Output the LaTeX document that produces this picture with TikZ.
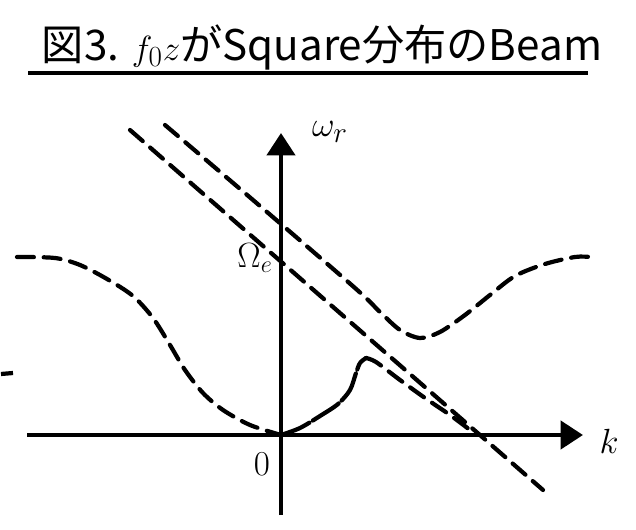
\documentclass[tikz,border=0pt]{standalone}
\usepackage{fontspec}
\newfontfamily\cjk{Noto Sans CJK JP}
\usetikzlibrary{arrows.meta}
\tikzset{
  axis/.style={line width=3.2pt, -{Triangle[length=16pt,width=20pt]}},
  branch/.style={line width=3pt, dash pattern=on 12pt off 7pt, line cap=round},
  hump/.style={line width=3pt, dash pattern=on 22pt off 3pt, line cap=round},
  lbl/.style={inner sep=0pt, font=\fontsize{30}{34}\selectfont}
}
\begin{document}
\begin{tikzpicture}[x=0.025cm, y=-0.025cm]
    \useasboundingbox (0,0) rectangle (636,530);

    % Title and its underline
    \node[inner sep=0pt] (title) at (322,47) {\cjk\fontsize{30}{34}\selectfont 図3. $f_0z$がSquare分布のBeam};
    \coordinate (ulA) at (28,73);
    \coordinate (ulB) at (588,73);
    \draw[line width=2.5pt] (ulA) -- (ulB);

    % Axes
    \coordinate (O) at (281,435);
    \coordinate (kA) at (27,435);
    \coordinate (kB) at (583,435);
    \coordinate (wA) at (281,515);
    \coordinate (wB) at (281,133);
    \draw[axis] (kA) -- (kB);
    \draw[axis] (wA) -- (wB);

    % Axis labels
    \node[lbl] (wlabel) at (330,132) {$\omega_r$};
    \node[lbl] (klabel) at (609,441) {$k$};
    \node[lbl] (zero) at (262,464) {$0$};
    \node[lbl, font=\fontsize{27}{30}\selectfont] (omegae) at (255,258) {$\Omega_e$};

    % Left branch down to the origin
    \draw[branch] plot[smooth] coordinates {(17,257) (55,258) (80,265) (107,279) (133,296) (153,318)
        (170,345) (185,370) (203,393) (223,410) (250,425) (O)};

    % Upper branch: straight part, dip, rise
    \draw[branch] plot[smooth] coordinates {(165,125) (260,206) (355,288) (380,312) (400,330)
        (420,338) (440,332) (465,315) (490,295) (515,276) (545,264) (575,257) (590,257)};

    % Lower straight line through Omega_e
    \coordinate (lnA) at (130,130);
    \coordinate (lnB) at (543,490);
    \draw[branch] (lnA) -- (lnB);

    % Hump from the origin, then along the line
    \coordinate (peak) at (366,358);
    \draw[hump] plot[smooth] coordinates {(O) (300,428) (320,416) (338,404) (350,390) (356,373) (360,363) (peak)};
    \draw[branch] plot[smooth] coordinates {(peak) (376,362) (400,380) (425,398) (450,415) (470,430)};

    % Stray mark at the left edge
    \coordinate (mA) at (1,374);
    \coordinate (mB) at (13,373);
    \draw[line width=3pt] (mA) -- (mB);

\end{tikzpicture}
\end{document}
